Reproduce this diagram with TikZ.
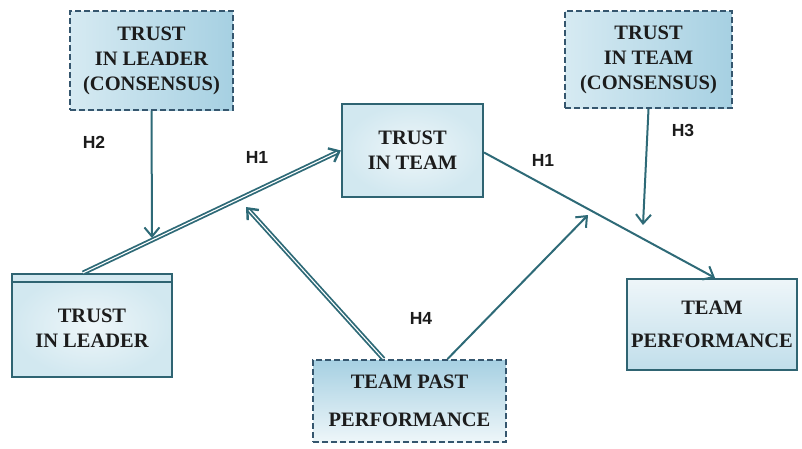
\documentclass[tikz,border=0pt]{standalone}
\usepackage{fontspec}
\setmainfont{Liberation Serif}
\newfontfamily\hfont{Liberation Sans}
\usetikzlibrary{arrows.meta}
\definecolor{edgec}{HTML}{2F6472}
\definecolor{dashc}{HTML}{35566E}
\definecolor{arrc}{HTML}{2E6A77}
\definecolor{lighta}{HTML}{EEF6F9}
\definecolor{lightb}{HTML}{D2E8F0}
\definecolor{bluea}{HTML}{D6EAF2}
\definecolor{blueb}{HTML}{A6D0E2}
\definecolor{txtc}{HTML}{1C1C1C}
\tikzset{
  boxtext/.style={inner sep=0pt, align=center, text=txtc,
    font=\bfseries\fontsize{20.5}{25}\selectfont},
  solidbox/.style={boxtext, draw=edgec, line width=2.2pt},
  dashbox/.style={boxtext, draw=dashc, line width=2pt, dash pattern=on 6pt off 3pt},
  conn/.style={draw=arrc, line width=2pt,
    -{Straight Barb[length=9pt,width=15pt,line width=2pt]}},
  dconn/.style={draw=arrc, line width=1.8pt, double=white, double distance=1.1pt,
    -{Straight Barb[length=9pt,width=15pt,line width=2.4pt]}},
  hlab/.style={font=\hfont\bfseries\fontsize{17.5}{18}\selectfont, text=txtc}
}
\begin{document}
\begin{tikzpicture}[x=1pt,y=-1pt]
\useasboundingbox (0,0) rectangle (802,448);
% boxes
\node[dashbox, minimum width=163pt, minimum height=99pt, left color=bluea, right color=blueb]
  (tlc) at (151.5,60.5) {TRUST\\IN LEADER\\(CONSENSUS)};
\node[dashbox, minimum width=167pt, minimum height=97pt, left color=bluea, right color=blueb]
  (ttc) at (648.5,59.5) {TRUST\\IN TEAM\\(CONSENSUS)};
\node[solidbox, minimum width=141pt, minimum height=93pt, inner color=lighta, outer color=lightb]
  (tit) at (412.5,150.5) {TRUST\\IN TEAM};
\node[solidbox, minimum width=160pt, minimum height=103pt, inner color=lighta, outer color=lightb]
  (til) at (92,325.5) {\\[-6pt]TRUST\\IN LEADER};
\draw[edgec, line width=1.6pt] ([yshift=-9pt]til.north west) -- ([yshift=-9pt]til.north east);
\node[dashbox, minimum width=193pt, minimum height=82pt, top color=blueb, bottom color=lighta]
  (tpp) at (409.5,401) {TEAM PAST\\[13pt]PERFORMANCE};
\node[solidbox, minimum width=170pt, minimum height=91pt, top color=lighta, bottom color=blueb!70]
  (tp) at (712,324.5) {TEAM\\[8pt]PERFORMANCE};
% free ends
\coordinate (m1) at (152,238);
\coordinate (m2) at (643,225);
\coordinate (m3) at (246,207);
\coordinate (m4) at (588,215);
% connectors
\draw[dconn] ([xshift=-9pt]til.north) -- (tit.west);
\draw[conn] ([yshift=-2pt]tit.east) -- ([xshift=3pt]tp.north);
\draw[conn] (tlc.south) -- (m1);
\draw[conn] (ttc.south) -- (m2);
\draw[dconn] ([xshift=-26pt]tpp.north) -- (m3);
\draw[conn] ([xshift=38pt]tpp.north) -- (m4);
% labels
\node[hlab] (h2) at (94,142) {H2};
\node[hlab] (h1a) at (257,157) {H1};
\node[hlab] (h1b) at (543,160) {H1};
\node[hlab] (h3) at (683,130) {H3};
\node[hlab] (h4) at (421,318) {H4};
\end{tikzpicture}
\end{document}
